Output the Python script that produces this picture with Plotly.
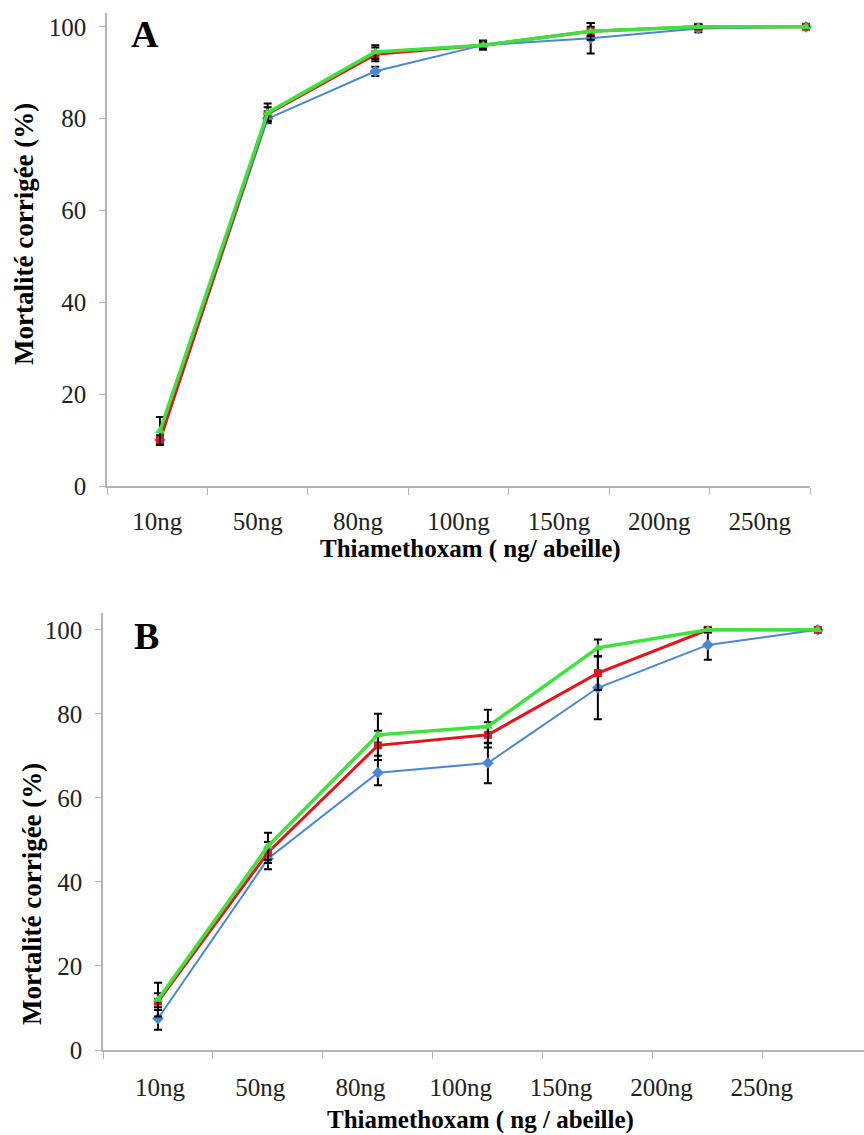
import plotly.graph_objects as go

# Doses (x categories)
doses = ["10ng", "50ng", "80ng", "100ng", "150ng", "200ng", "250ng"]

# Panel A: corrected mortality (%) and error bars, three series
a_blue = [10, 80, 90.3, 96, 97.5, 99.6, 100]
a_blue_err = [1, 1, 1, 1, 3.3, 0.8, 0]
a_red = [10, 81, 94, 96, 99, 100, 100]
a_red_err = [1, 1.5, 1.5, 0.8, 1.8, 0.5, 0]
a_green = [12, 81.3, 94.5, 96, 99, 100, 100]
a_green_err = [3, 2, 1.5, 0.8, 1, 0.5, 0]

# Panel B
b_blue = [7.5, 45.5, 66, 68.3, 86.2, 96.4, 100]
b_blue_err = [2.7, 2.5, 3, 4.8, 7.5, 3.5, 0]
b_red = [11.5, 47, 72.5, 75, 89.7, 100, 100]
b_red_err = [2, 2.5, 3.5, 3, 4, 0.5, 0]
b_green = [12, 48.5, 75, 77, 95.7, 100, 100]
b_green_err = [4, 3.2, 5, 4, 2, 0.5, 0]

y_ticks = [0, 20, 40, 60, 80, 100]

W, H = 864, 1135
SERIF = "Liberation Serif"
AXIS_GREY = "#b4b4b4"
BLUE, RED, GREEN = "#4a86d4", "#e3141c", "#3ee23e"

series_style = [
    (BLUE, "diamond", 9, 2),
    (RED, "square", 8, 3),
    (GREEN, "triangle-up", 9, 3.5),
]

fig = go.Figure()

# Empty traces so the frame axes of each panel are laid out and drawn
fig.add_trace(go.Scatter(x=doses, y=[None] * len(doses), xaxis="x", yaxis="y",
                         mode="markers", showlegend=False, hoverinfo="skip"))
fig.add_trace(go.Scatter(x=doses, y=[None] * len(doses), xaxis="x4", yaxis="y2",
                         mode="markers", showlegend=False, hoverinfo="skip"))


def add_panel(values, errors, xref, yref):
    for (color, symbol, size, width), y, e in zip(series_style, values, errors):
        fig.add_trace(go.Scatter(
            x=doses, y=y, xaxis=xref, yaxis=yref, mode="lines+markers",
            line=dict(color=color, width=width),
            marker=dict(symbol=symbol, size=size, color=color),
            error_y=dict(type="data", array=e, visible=True,
                         color="black", thickness=2, width=4),
            showlegend=False, cliponaxis=False,
        ))


add_panel([a_blue, a_red, a_green], [a_blue_err, a_red_err, a_green_err], "x2", "y")
add_panel([b_blue, b_red, b_green], [b_blue_err, b_red_err, b_green_err], "x3", "y2")


def px_x(p):
    return p / W


def px_y(p):
    return 1 - p / H


tick_font = dict(family=SERIF, size=25, color="#222")

common_y = dict(
    type="linear", tickvals=y_ticks, showline=True, linecolor=AXIS_GREY,
    linewidth=1.5, ticks="outside", ticklen=6, tickcolor=AXIS_GREY,
    showgrid=False, zeroline=False, tickfont=tick_font,
)

fig.update_layout(
    width=W, height=H, template="none",
    paper_bgcolor="white", plot_bgcolor="white",
    margin=dict(l=0, r=0, t=0, b=0),
    # Panel A: category frame with labels, hidden data axis on top
    xaxis=dict(domain=[px_x(107), px_x(810)], anchor="y", type="category",
               categoryorder="array", categoryarray=doses, range=[-0.5, 6.5],
               showline=True, linecolor=AXIS_GREY, linewidth=1.5,
               ticks="outside", tickson="boundaries", ticklen=7,
               tickcolor=AXIS_GREY, showgrid=False, tickfont=tick_font,
               ticklabelstandoff=12),
    xaxis2=dict(overlaying="x", anchor="y", type="category",
                categoryorder="array", categoryarray=doses,
                range=[-0.492, 6.037], visible=False),
    yaxis=dict(domain=[px_y(486), px_y(13)], anchor="x", range=[0, 103],
               ticklabelstandoff=8, **common_y),
    # Panel B: data axis carries the frame ticks, labels on an overlay
    xaxis3=dict(domain=[px_x(103), 1.0], anchor="y2", type="category",
                categoryorder="array", categoryarray=doses, range=[-0.5, 6.42],
                showline=True, linecolor=AXIS_GREY, linewidth=1.5,
                ticks="outside", tickson="boundaries", ticklen=7,
                tickcolor=AXIS_GREY, showgrid=False, showticklabels=False),
    xaxis4=dict(overlaying="x3", anchor="y2", type="category",
                categoryorder="array", categoryarray=doses,
                range=[-0.568, 7.02], showline=False, ticks="",
                showgrid=False, tickfont=tick_font, ticklabelstandoff=20),
    yaxis2=dict(domain=[px_y(1050), px_y(613)], anchor="x3", range=[0, 104],
                ticklabelstandoff=8, **common_y),
)

title_font = dict(family=SERIF, size=25, color="black")
ytitle_font = dict(family=SERIF, size=27, color="black")
letter_font = dict(family=SERIF, size=38, color="black")

annotations = [
    dict(text="<b>A</b>", x=px_x(145), y=px_y(34), font=letter_font),
    dict(text="<b>B</b>", x=px_x(146), y=px_y(636), font=letter_font),
    dict(text="<b>Thiamethoxam ( ng/ abeille)</b>", x=px_x(470), y=px_y(549),
         font=title_font),
    dict(text="<b>Thiamethoxam ( ng / abeille)</b>", x=px_x(480), y=px_y(1120),
         font=title_font),
    dict(text="<b>Mortalité corrigée (%)</b>", x=px_x(24), y=px_y(234),
         textangle=-90, font=ytitle_font),
    dict(text="<b>Mortalité corrigée (%)</b>", x=px_x(32), y=px_y(894),
         textangle=-90, font=ytitle_font),
]
for a in annotations:
    fig.add_annotation(xref="paper", yref="paper", showarrow=False,
                       xanchor="center", yanchor="middle", **a)

fig.write_html("out.html")
